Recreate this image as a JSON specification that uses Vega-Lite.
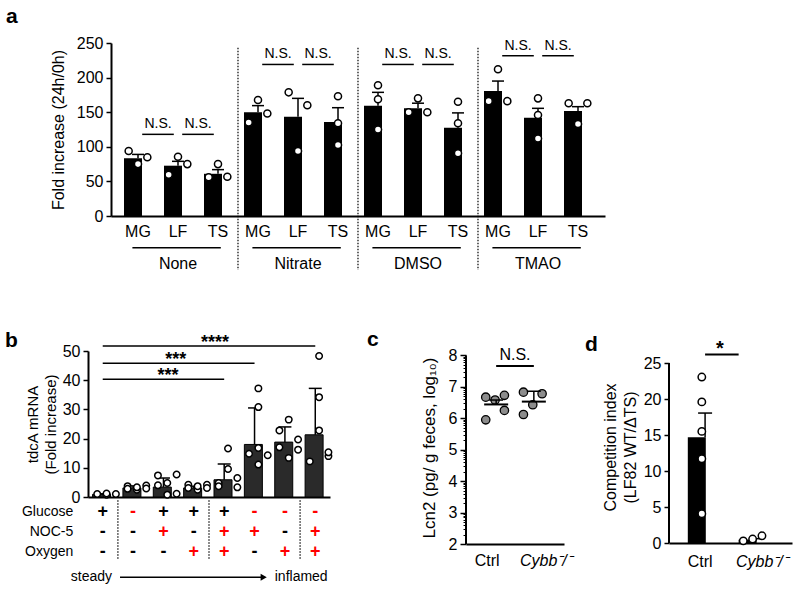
{
"$schema": "https://vega.github.io/schema/vega-lite/v6.json",
"padding": {"left": 5, "top": 6, "right": 5, "bottom": 5},
"background": "white",
"config": {
  "font": "Liberation Sans",
  "view": {"stroke": null},
  "axis": {"domainColor": "black", "domainWidth": 2, "tickColor": "black", "tickWidth": 1.5, "tickSize": 5, "labelColor": "black", "labelFontSize": 16, "labelFont": "Liberation Sans", "titleColor": "black", "titleFontSize": 16, "titleFontWeight": "normal", "titleFont": "Liberation Sans", "grid": false, "labelPadding": 3, "labelOverlap": false},
  "title": {"fontSize": 21, "fontWeight": "bold", "anchor": "start", "frame": "group", "color": "black", "baseline": "alphabetic", "font": "Liberation Sans"},
  "text": {"font": "Liberation Sans", "color": "black"}
},
"datasets": {
  "a_bars": [
    {"key": "None|MG", "mean": 83.5, "hi": 89},
    {"key": "None|LF", "mean": 72.7, "hi": 79},
    {"key": "None|TS", "mean": 61, "hi": 67},
    {"key": "Nitrate|MG", "mean": 150, "hi": 159.5},
    {"key": "Nitrate|LF", "mean": 143.5, "hi": 170},
    {"key": "Nitrate|TS", "mean": 136, "hi": 156.5},
    {"key": "DMSO|MG", "mean": 159.5, "hi": 178.7},
    {"key": "DMSO|LF", "mean": 155.6, "hi": 163},
    {"key": "DMSO|TS", "mean": 127.6, "hi": 149},
    {"key": "TMAO|MG", "mean": 180.6, "hi": 195},
    {"key": "TMAO|LF", "mean": 142, "hi": 155.6},
    {"key": "TMAO|TS", "mean": 151.7, "hi": 158}
  ],
  "a_pts": [
    {"key": "None|MG", "pos": "L", "value": 94}, {"key": "None|MG", "pos": "C", "value": 75}, {"key": "None|MG", "pos": "R", "value": 85},
    {"key": "None|LF", "pos": "L", "value": 59.7}, {"key": "None|LF", "pos": "C", "value": 85.7}, {"key": "None|LF", "pos": "R", "value": 75},
    {"key": "None|TS", "pos": "L", "value": 56}, {"key": "None|TS", "pos": "C", "value": 75}, {"key": "None|TS", "pos": "R", "value": 56.8},
    {"key": "Nitrate|MG", "pos": "L", "value": 135}, {"key": "Nitrate|MG", "pos": "C", "value": 167.6}, {"key": "Nitrate|MG", "pos": "R", "value": 148},
    {"key": "Nitrate|LF", "pos": "L", "value": 178.7}, {"key": "Nitrate|LF", "pos": "C", "value": 94}, {"key": "Nitrate|LF", "pos": "R", "value": 160},
    {"key": "Nitrate|TS", "pos": "C", "value": 173}, {"key": "Nitrate|TS", "pos": "C", "value": 134}, {"key": "Nitrate|TS", "pos": "C", "value": 102.6},
    {"key": "DMSO|MG", "pos": "C", "value": 189}, {"key": "DMSO|MG", "pos": "C", "value": 168.6}, {"key": "DMSO|MG", "pos": "C", "value": 125},
    {"key": "DMSO|LF", "pos": "C", "value": 170}, {"key": "DMSO|LF", "pos": "L", "value": 150}, {"key": "DMSO|LF", "pos": "R", "value": 150},
    {"key": "DMSO|TS", "pos": "C", "value": 165}, {"key": "DMSO|TS", "pos": "C", "value": 134}, {"key": "DMSO|TS", "pos": "C", "value": 90.6},
    {"key": "TMAO|MG", "pos": "C", "value": 212}, {"key": "TMAO|MG", "pos": "L", "value": 166}, {"key": "TMAO|MG", "pos": "R", "value": 166},
    {"key": "TMAO|LF", "pos": "C", "value": 170}, {"key": "TMAO|LF", "pos": "C", "value": 146}, {"key": "TMAO|LF", "pos": "C", "value": 112},
    {"key": "TMAO|TS", "pos": "L", "value": 163}, {"key": "TMAO|TS", "pos": "R", "value": 163}, {"key": "TMAO|TS", "pos": "C", "value": 133}
  ],
  "a_ns": [
    {"from": "None|MG", "to": "None|LF", "y": 118, "label": "N.S."},
    {"from": "None|LF", "to": "None|TS", "y": 118, "label": "N.S."},
    {"from": "Nitrate|MG", "to": "Nitrate|LF", "y": 219, "label": "N.S."},
    {"from": "Nitrate|LF", "to": "Nitrate|TS", "y": 219, "label": "N.S."},
    {"from": "DMSO|MG", "to": "DMSO|LF", "y": 219, "label": "N.S."},
    {"from": "DMSO|LF", "to": "DMSO|TS", "y": 219, "label": "N.S."},
    {"from": "TMAO|MG", "to": "TMAO|LF", "y": 231.6, "label": "N.S."},
    {"from": "TMAO|LF", "to": "TMAO|TS", "y": 231.6, "label": "N.S."}
  ],
  "a_groups": [
    {"first": "None|MG", "mid": "None|LF", "last": "None|TS", "label": "None"},
    {"first": "Nitrate|MG", "mid": "Nitrate|LF", "last": "Nitrate|TS", "label": "Nitrate"},
    {"first": "DMSO|MG", "mid": "DMSO|LF", "last": "DMSO|TS", "label": "DMSO"},
    {"first": "TMAO|MG", "mid": "TMAO|LF", "last": "TMAO|TS", "label": "TMAO"}
  ],
  "a_seps": [{"after": "None|TS"}, {"after": "Nitrate|TS"}, {"after": "DMSO|TS"}],
  "b_bars": [
    {"cond": "1", "mean": 0.9, "hi": 1.1},
    {"cond": "2", "mean": 3.1, "hi": 3.8},
    {"cond": "3", "mean": 3.4, "hi": 6.5},
    {"cond": "4", "mean": 3.1, "hi": 3.7},
    {"cond": "5", "mean": 5.9, "hi": 11.3},
    {"cond": "6", "mean": 18, "hi": 30.5},
    {"cond": "7", "mean": 18.8, "hi": 24},
    {"cond": "8", "mean": 21.3, "hi": 37.2}
  ],
  "b_pts": [
    {"cond": "1", "pos": "L", "value": 1.0}, {"cond": "1", "pos": "C", "value": 0.8}, {"cond": "1", "pos": "R", "value": 1.0}, {"cond": "1", "pos": "C", "value": 1.2},
    {"cond": "2", "pos": "L", "value": 3.7}, {"cond": "2", "pos": "R", "value": 3.9}, {"cond": "2", "pos": "C", "value": 2.5}, {"cond": "2", "pos": "C", "value": 3.3}, {"cond": "2", "pos": "L", "value": 2.8}, {"cond": "2", "pos": "R", "value": 2.9},
    {"cond": "3", "pos": "L", "value": 7.4}, {"cond": "3", "pos": "R", "value": 7.7}, {"cond": "3", "pos": "L", "value": 4.0}, {"cond": "3", "pos": "C", "value": 4.8}, {"cond": "3", "pos": "C", "value": 0.8}, {"cond": "3", "pos": "R", "value": 1.1},
    {"cond": "4", "pos": "L", "value": 4.2}, {"cond": "4", "pos": "R", "value": 4.2}, {"cond": "4", "pos": "C", "value": 2.5}, {"cond": "4", "pos": "L", "value": 3.1}, {"cond": "4", "pos": "R", "value": 3.1}, {"cond": "4", "pos": "C", "value": 3.7},
    {"cond": "5", "pos": "C", "value": 16.6}, {"cond": "5", "pos": "C", "value": 9.6}, {"cond": "5", "pos": "R", "value": 6.5}, {"cond": "5", "pos": "L", "value": 4.8}, {"cond": "5", "pos": "R", "value": 3.3}, {"cond": "5", "pos": "L", "value": 3.7},
    {"cond": "6", "pos": "C", "value": 37.2}, {"cond": "6", "pos": "C", "value": 30.8}, {"cond": "6", "pos": "L", "value": 14.8}, {"cond": "6", "pos": "R", "value": 14.3}, {"cond": "6", "pos": "C", "value": 16.8}, {"cond": "6", "pos": "C", "value": 11.1},
    {"cond": "7", "pos": "C", "value": 26.5}, {"cond": "7", "pos": "L", "value": 22.8}, {"cond": "7", "pos": "R", "value": 19.7}, {"cond": "7", "pos": "L", "value": 17.0}, {"cond": "7", "pos": "R", "value": 16.2}, {"cond": "7", "pos": "C", "value": 13.4},
    {"cond": "8", "pos": "C", "value": 48.3}, {"cond": "8", "pos": "C", "value": 34.2}, {"cond": "8", "pos": "C", "value": 22.8}, {"cond": "8", "pos": "R", "value": 14.0}, {"cond": "8", "pos": "L", "value": 12.2}, {"cond": "8", "pos": "R", "value": 15.3}
  ],
  "b_sig": [
    {"from": "1", "to": "8", "y": 51.7},
    {"from": "1", "to": "6", "y": 45.8},
    {"from": "1", "to": "5", "y": 40.3}
  ],
  "b_table": [
    {"cond": "1", "factor": "Glucose", "sign": "+", "state": "base"},
    {"cond": "2", "factor": "Glucose", "sign": "-", "state": "changed"},
    {"cond": "3", "factor": "Glucose", "sign": "+", "state": "base"},
    {"cond": "4", "factor": "Glucose", "sign": "+", "state": "base"},
    {"cond": "5", "factor": "Glucose", "sign": "+", "state": "base"},
    {"cond": "6", "factor": "Glucose", "sign": "-", "state": "changed"},
    {"cond": "7", "factor": "Glucose", "sign": "-", "state": "changed"},
    {"cond": "8", "factor": "Glucose", "sign": "-", "state": "changed"},
    {"cond": "1", "factor": "NOC-5", "sign": "-", "state": "base"},
    {"cond": "2", "factor": "NOC-5", "sign": "-", "state": "base"},
    {"cond": "3", "factor": "NOC-5", "sign": "+", "state": "changed"},
    {"cond": "4", "factor": "NOC-5", "sign": "-", "state": "base"},
    {"cond": "5", "factor": "NOC-5", "sign": "+", "state": "changed"},
    {"cond": "6", "factor": "NOC-5", "sign": "+", "state": "changed"},
    {"cond": "7", "factor": "NOC-5", "sign": "-", "state": "base"},
    {"cond": "8", "factor": "NOC-5", "sign": "+", "state": "changed"},
    {"cond": "1", "factor": "Oxygen", "sign": "-", "state": "base"},
    {"cond": "2", "factor": "Oxygen", "sign": "-", "state": "base"},
    {"cond": "3", "factor": "Oxygen", "sign": "-", "state": "base"},
    {"cond": "4", "factor": "Oxygen", "sign": "+", "state": "changed"},
    {"cond": "5", "factor": "Oxygen", "sign": "+", "state": "changed"},
    {"cond": "6", "factor": "Oxygen", "sign": "-", "state": "base"},
    {"cond": "7", "factor": "Oxygen", "sign": "+", "state": "changed"},
    {"cond": "8", "factor": "Oxygen", "sign": "+", "state": "changed"}
  ],
  "b_seps": [{"after": "1"}, {"after": "4"}, {"after": "7"}],
  "b_arrow": [{"start": "1", "end": "6", "next": "7", "left": "steady", "right": "inflamed"}],
  "c_pts": [
    {"grp": "Ctrl", "pos": "L", "value": 6.67}, {"grp": "Ctrl", "pos": "R", "value": 6.73}, {"grp": "Ctrl", "pos": "R", "value": 6.25}, {"grp": "Ctrl", "pos": "L", "value": 5.95}, {"grp": "Ctrl", "pos": "C", "value": 6.58},
    {"grp": "Cybb", "pos": "L", "value": 6.83}, {"grp": "Cybb", "pos": "R", "value": 6.78}, {"grp": "Cybb", "pos": "C", "value": 6.43}, {"grp": "Cybb", "pos": "L", "value": 6.12}
  ],
  "c_stats": [
    {"grp": "Ctrl", "mean": 6.44, "hi": 6.58},
    {"grp": "Cybb", "mean": 6.53, "hi": 6.86}
  ],
  "c_ns": [{"from": "Ctrl", "to": "Cybb", "y": 7.66, "label": "N.S."}],
  "d_stats": [
    {"grp": "Ctrl", "mean": 14.7, "hi": 18.05},
    {"grp": "Cybb", "mean": 0.46, "hi": 0.6}
  ],
  "d_pts": [
    {"grp": "Ctrl", "pos": "C", "value": 23.05}, {"grp": "Ctrl", "pos": "C", "value": 19.6}, {"grp": "Ctrl", "pos": "C", "value": 15.5}, {"grp": "Ctrl", "pos": "C", "value": 11.7}, {"grp": "Ctrl", "pos": "C", "value": 4.07},
    {"grp": "Cybb", "pos": "L", "value": 0.3}, {"grp": "Cybb", "pos": "C", "value": 0.55}, {"grp": "Cybb", "pos": "R", "value": 1.0}
  ],
  "d_sig": [{"from": "Ctrl", "to": "Cybb", "y": 26.2, "label": "*"}]
},
"spacing": 56,
"vconcat": [
  {
    "bounds": "flush",
    "spacing": 22,
    "hconcat": [
      {"data": {"values": []}, "mark": "point", "width": 1, "height": 1},
      {
        "width": 494,
        "height": 173,
        "title": {"text": "a", "dx": -105, "offset": 8},
        "layer": [
          {
            "data": {"name": "a_bars"},
            "mark": {"type": "bar", "color": "black", "opacity": 1},
            "encoding": {
              "x": {"field": "key", "type": "nominal", "scale": {"domain": ["None|MG", "None|LF", "None|TS", "Nitrate|MG", "Nitrate|LF", "Nitrate|TS", "DMSO|MG", "DMSO|LF", "DMSO|TS", "TMAO|MG", "TMAO|LF", "TMAO|TS"], "paddingInner": 0.3, "paddingOuter": 0.325},
                    "axis": {"title": null, "ticks": false, "labelPadding": 7, "labelAngle": 0, "labelExpr": "split(datum.value, '|')[1]"}},
              "y": {"field": "mean", "type": "quantitative", "scale": {"domain": [0, 250], "nice": false},
                    "axis": {"title": "Fold increase (24h/0h)", "values": [0, 50, 100, 150, 200, 250], "tickCount": 20, "labelOverlap": false, "titlePadding": 10}}
            }
          },
          {
            "data": {"name": "a_bars"},
            "mark": {"type": "rule", "strokeWidth": 1.5, "color": "black"},
            "encoding": {"x": {"field": "key", "type": "nominal"}, "y": {"field": "mean", "type": "quantitative"}, "y2": {"field": "hi"}}
          },
          {
            "data": {"name": "a_bars"},
            "mark": {"type": "tick", "size": 12, "thickness": 1.5, "color": "black", "opacity": 1},
            "encoding": {"x": {"field": "key", "type": "nominal"}, "y": {"field": "hi", "type": "quantitative"}}
          },
          {
            "data": {"name": "a_pts"},
            "mark": {"type": "point", "shape": "circle", "filled": true, "fill": "white", "stroke": "black", "strokeWidth": 1.5, "size": 50, "opacity": 1},
            "encoding": {
              "x": {"field": "key", "type": "nominal"},
              "xOffset": {"field": "pos", "type": "nominal", "scale": {"domain": ["L", "C", "R"], "paddingOuter": 0.5, "paddingInner": 0}},
              "y": {"field": "value", "type": "quantitative"}
            }
          },
          {
            "data": {"name": "a_ns"},
            "mark": {"type": "rule", "strokeWidth": 1.5, "color": "black"},
            "encoding": {"x": {"field": "from", "type": "nominal", "bandPosition": 0.65}, "x2": {"field": "to", "bandPosition": 0.35}, "y": {"field": "y", "type": "quantitative"}}
          },
          {
            "data": {"name": "a_ns"},
            "mark": {"type": "text", "baseline": "bottom", "dy": -3, "fontSize": 14},
            "encoding": {"x": {"field": "from", "type": "nominal", "bandPosition": 1.214}, "y": {"field": "y", "type": "quantitative"}, "text": {"field": "label"}}
          },
          {
            "data": {"name": "a_groups"},
            "mark": {"type": "rule", "strokeWidth": 1.5, "color": "black"},
            "encoding": {"x": {"field": "first", "type": "nominal", "bandPosition": 0.3}, "x2": {"field": "last", "bandPosition": 0.6}, "y": {"datum": -46}}
          },
          {
            "data": {"name": "a_groups"},
            "mark": {"type": "text", "baseline": "middle", "fontSize": 16},
            "encoding": {"x": {"field": "mid", "type": "nominal"}, "y": {"datum": -69.4}, "text": {"field": "label"}}
          },
          {
            "data": {"name": "a_seps"},
            "mark": {"type": "rule", "strokeWidth": 1.2, "strokeDash": [1.5, 1.5], "color": "black"},
            "encoding": {"x": {"field": "after", "type": "nominal", "bandPosition": 1.214}, "y": {"datum": 243}, "y2": {"datum": -78}}
          }
        ]
      }
    ]
  },
  {
    "bounds": "flush",
    "spacing": 0,
    "hconcat": [
      {
        "width": 242,
        "height": 146,
        "title": {"text": "b", "dx": -83, "offset": -17},
        "layer": [
          {
            "data": {"name": "b_bars"},
            "mark": {"type": "bar", "color": "#2a2a2a", "stroke": "black", "strokeWidth": 1, "opacity": 1},
            "encoding": {
              "x": {"field": "cond", "type": "nominal", "scale": {"domain": ["1", "2", "3", "4", "5", "6", "7", "8"], "paddingInner": 0.33, "paddingOuter": 0.15},
                    "axis": {"title": null, "labels": false, "ticks": false}},
              "y": {"field": "mean", "type": "quantitative", "scale": {"domain": [0, 50], "nice": false},
                    "axis": {"values": [0, 10, 20, 30, 40, 50], "tickCount": 20, "labelOverlap": false, "title": ["tdcA mRNA", "(Fold increase)"], "titleFontSize": 15, "titlePadding": 0, "titleX": -48, "titleLineHeight": 18}}
            }
          },
          {
            "data": {"name": "b_bars"},
            "mark": {"type": "rule", "strokeWidth": 1.5, "color": "black"},
            "encoding": {"x": {"field": "cond", "type": "nominal"}, "y": {"field": "mean", "type": "quantitative"}, "y2": {"field": "hi"}}
          },
          {
            "data": {"name": "b_bars"},
            "mark": {"type": "tick", "size": 13, "thickness": 1.5, "color": "black", "opacity": 1},
            "encoding": {"x": {"field": "cond", "type": "nominal"}, "y": {"field": "hi", "type": "quantitative"}}
          },
          {
            "data": {"name": "b_pts"},
            "mark": {"type": "point", "shape": "circle", "filled": true, "fill": "white", "stroke": "black", "strokeWidth": 1.5, "size": 42, "opacity": 1},
            "encoding": {
              "x": {"field": "cond", "type": "nominal"},
              "xOffset": {"field": "pos", "type": "nominal", "scale": {"domain": ["L", "C", "R"], "paddingOuter": 0.55, "paddingInner": 0}},
              "y": {"field": "value", "type": "quantitative"}
            }
          },
          {
            "data": {"name": "b_sig"},
            "mark": {"type": "rule", "strokeWidth": 1.5, "color": "black"},
            "encoding": {"x": {"field": "from", "type": "nominal"}, "x2": {"field": "to"}, "y": {"field": "y", "type": "quantitative"}}
          },
          {
            "data": {"values": [{"tx": "5", "label": "****", "y": 51.7}]},
            "mark": {"type": "text", "baseline": "alphabetic", "dy": 2, "fontSize": 18, "fontWeight": "bold"},
            "encoding": {"x": {"field": "tx", "type": "nominal", "bandPosition": 0.05}, "y": {"field": "y", "type": "quantitative"}, "text": {"field": "label"}}
          },
          {
            "data": {"values": [{"tx": "3", "label": "***", "y": 45.8}]},
            "mark": {"type": "text", "baseline": "alphabetic", "dy": 2, "fontSize": 18, "fontWeight": "bold"},
            "encoding": {"x": {"field": "tx", "type": "nominal", "bandPosition": 1.1}, "y": {"field": "y", "type": "quantitative"}, "text": {"field": "label"}}
          },
          {
            "data": {"values": [{"tx": "3", "label": "***", "y": 40.3}]},
            "mark": {"type": "text", "baseline": "alphabetic", "dy": 2, "fontSize": 18, "fontWeight": "bold"},
            "encoding": {"x": {"field": "tx", "type": "nominal", "bandPosition": 0.72}, "y": {"field": "y", "type": "quantitative"}, "text": {"field": "label"}}
          },
          {
            "data": {"name": "b_table"},
            "transform": [{"filter": "datum.factor == 'Glucose'"}],
            "mark": {"type": "text", "fontSize": 18, "fontWeight": "bold", "baseline": "middle"},
            "encoding": {
              "x": {"field": "cond", "type": "nominal"},
              "y": {"datum": -5.15},
              "text": {"field": "sign"},
              "color": {"field": "state", "type": "nominal", "scale": {"domain": ["base", "changed"], "range": ["black", "#ff0000"]}, "legend": null}
            }
          },
          {
            "data": {"name": "b_table"},
            "transform": [{"filter": "datum.factor == 'NOC-5'"}],
            "mark": {"type": "text", "fontSize": 18, "fontWeight": "bold", "baseline": "middle"},
            "encoding": {
              "x": {"field": "cond", "type": "nominal"},
              "y": {"datum": -12.0},
              "text": {"field": "sign"},
              "color": {"field": "state", "type": "nominal", "legend": null}
            }
          },
          {
            "data": {"name": "b_table"},
            "transform": [{"filter": "datum.factor == 'Oxygen'"}],
            "mark": {"type": "text", "fontSize": 18, "fontWeight": "bold", "baseline": "middle"},
            "encoding": {
              "x": {"field": "cond", "type": "nominal"},
              "y": {"datum": -19.0},
              "text": {"field": "sign"},
              "color": {"field": "state", "type": "nominal", "legend": null}
            }
          },
          {
            "data": {"name": "b_table"},
            "transform": [{"filter": "datum.factor == 'Glucose' && datum.cond == '1'"}],
            "mark": {"type": "text", "fontSize": 14, "align": "right", "baseline": "middle"},
            "encoding": {"x": {"field": "cond", "type": "nominal", "bandPosition": -0.946}, "y": {"datum": -5.15}, "text": {"field": "factor"}}
          },
          {
            "data": {"name": "b_table"},
            "transform": [{"filter": "datum.factor == 'NOC-5' && datum.cond == '1'"}],
            "mark": {"type": "text", "fontSize": 14, "align": "right", "baseline": "middle"},
            "encoding": {"x": {"field": "cond", "type": "nominal", "bandPosition": -0.946}, "y": {"datum": -12.0}, "text": {"field": "factor"}}
          },
          {
            "data": {"name": "b_table"},
            "transform": [{"filter": "datum.factor == 'Oxygen' && datum.cond == '1'"}],
            "mark": {"type": "text", "fontSize": 14, "align": "right", "baseline": "middle"},
            "encoding": {"x": {"field": "cond", "type": "nominal", "bandPosition": -0.946}, "y": {"datum": -19.0}, "text": {"field": "factor"}}
          },
          {
            "data": {"name": "b_seps"},
            "mark": {"type": "rule", "strokeWidth": 1.2, "strokeDash": [1.5, 1.5], "color": "black"},
            "encoding": {"x": {"field": "after", "type": "nominal", "bandPosition": 1.246}, "y": {"datum": -1.1}, "y2": {"datum": -21.4}}
          },
          {
            "data": {"name": "b_arrow"},
            "mark": {"type": "rule", "strokeWidth": 1.5, "color": "black"},
            "encoding": {"x": {"field": "start", "type": "nominal", "bandPosition": 1.35}, "x2": {"field": "end", "bandPosition": 0.87}, "y": {"datum": -27.5}}
          },
          {
            "data": {"name": "b_arrow"},
            "mark": {"type": "point", "shape": "triangle-right", "filled": true, "color": "black", "size": 50, "opacity": 1},
            "encoding": {"x": {"field": "end", "type": "nominal", "bandPosition": 0.95}, "y": {"datum": -27.5}}
          },
          {
            "data": {"name": "b_arrow"},
            "mark": {"type": "text", "align": "right", "baseline": "middle", "fontSize": 14},
            "encoding": {"x": {"field": "start", "type": "nominal", "bandPosition": 0.96}, "y": {"datum": -27.5}, "text": {"field": "left"}}
          },
          {
            "data": {"name": "b_arrow"},
            "mark": {"type": "text", "align": "left", "baseline": "middle", "fontSize": 14},
            "encoding": {"x": {"field": "next", "type": "nominal", "bandPosition": 0}, "y": {"datum": -27.5}, "text": {"field": "right"}}
          }
        ]
      },
      {"data": {"values": []}, "mark": "point", "width": 136, "height": 1},
      {
        "width": 98,
        "height": 193,
        "title": {"text": "c", "dx": -99, "offset": -3},
        "resolve": {"axis": {"y": "independent"}},
        "layer": [
          {
            "data": {"name": "c_pts"},
            "mark": {"type": "point", "shape": "circle", "filled": true, "fill": "#8c8c8c", "stroke": "black", "strokeWidth": 1.3, "size": 70, "opacity": 1},
            "encoding": {
              "x": {"field": "grp", "type": "nominal", "scale": {"domain": ["Ctrl", "Cybb"], "paddingInner": 0.2, "paddingOuter": 0.4},
                    "axis": {"title": null, "ticks": false, "labelPadding": 8, "labelAngle": 0, "labelExpr": "datum.value == 'Cybb' ? 'Cybb⁻/⁻' : datum.value",
                             "labelFontStyle": {"condition": {"test": "datum.value == 'Cybb'", "value": "italic"}, "value": "normal"},
                             "labelOffset": {"condition": {"test": "datum.value == 'Ctrl'", "value": -9}, "value": 12}}},
              "xOffset": {"field": "pos", "type": "nominal", "scale": {"domain": ["L", "C", "R"], "paddingOuter": 1.27, "paddingInner": 0}},
              "y": {"field": "value", "type": "quantitative", "scale": {"domain": [2, 8.14], "nice": false, "zero": false},
                    "axis": {"orient": "left", "domain": false, "values": [2, 3, 4, 5, 6, 7, 8], "format": "d", "tickCount": 20, "labelOverlap": false, "title": "Lcn2 (pg/ g feces, log₁₀)", "titleFontSize": 17, "tickSize": 6, "titlePadding": 10}}
            }
          },
          {
            "data": {"name": "c_stats"},
            "transform": [{"filter": "datum.grp == 'Ctrl'"}],
            "mark": {"type": "rule", "strokeWidth": 2, "color": "black"},
            "encoding": {"x": {"field": "grp", "type": "nominal", "bandPosition": -0.5}, "y": {"datum": 2, "axis": null}, "y2": {"datum": 8}}
          },
          {
            "data": {"name": "c_stats"},
            "mark": {"type": "tick", "size": 24, "thickness": 2, "color": "black", "opacity": 1},
            "encoding": {"x": {"field": "grp", "type": "nominal"}, "y": {"field": "mean", "type": "quantitative", "axis": null}}
          },
          {
            "data": {"name": "c_stats"},
            "mark": {"type": "rule", "strokeWidth": 1.5, "color": "black"},
            "encoding": {"x": {"field": "grp", "type": "nominal"}, "y": {"field": "mean", "type": "quantitative", "axis": null}, "y2": {"field": "hi"}}
          },
          {
            "data": {"name": "c_stats"},
            "mark": {"type": "tick", "size": 14, "thickness": 1.5, "color": "black", "opacity": 1},
            "encoding": {"x": {"field": "grp", "type": "nominal"}, "y": {"field": "hi", "type": "quantitative", "axis": null}}
          },
          {
            "data": {"name": "c_ns"},
            "mark": {"type": "rule", "strokeWidth": 2, "color": "black"},
            "encoding": {"x": {"field": "from", "type": "nominal"}, "x2": {"field": "to"},
                         "y": {"field": "y", "type": "quantitative",
                               "axis": {"orient": "left", "labels": false, "domain": false, "title": null, "tickSize": 3, "tickWidth": 1, "tickCount": 200,
                                        "values": [2.301, 2.477, 2.602, 2.699, 2.778, 2.845, 2.903, 2.954, 3.301, 3.477, 3.602, 3.699, 3.778, 3.845, 3.903, 3.954, 4.301, 4.477, 4.602, 4.699, 4.778, 4.845, 4.903, 4.954, 5.301, 5.477, 5.602, 5.699, 5.778, 5.845, 5.903, 5.954, 6.301, 6.477, 6.602, 6.699, 6.778, 6.845, 6.903, 6.954, 7.301, 7.477, 7.602, 7.699, 7.778, 7.845, 7.903, 7.954]}}}
          },
          {
            "data": {"name": "c_ns"},
            "mark": {"type": "text", "baseline": "bottom", "dy": -3, "fontSize": 16},
            "encoding": {"x": {"field": "from", "type": "nominal", "bandPosition": 1.125}, "y": {"field": "y", "type": "quantitative", "axis": null}, "text": {"field": "label"}}
          }
        ]
      },
      {"data": {"values": []}, "mark": "point", "width": 105, "height": 1},
      {
        "width": 123,
        "height": 192,
        "title": {"text": "d", "dx": -84, "offset": -15.2},
        "layer": [
          {
            "data": {"name": "d_stats"},
            "mark": {"type": "bar", "color": "black", "opacity": 1},
            "encoding": {
              "x": {"field": "grp", "type": "nominal", "scale": {"domain": ["Ctrl", "Cybb"], "paddingInner": 0.32, "paddingOuter": 0.37},
                    "axis": {"title": null, "ticks": false, "labelPadding": 10, "labelAngle": 0, "labelExpr": "datum.value == 'Cybb' ? 'Cybb⁻/⁻' : datum.value",
                             "labelFontStyle": {"condition": {"test": "datum.value == 'Cybb'", "value": "italic"}, "value": "normal"},
                             "labelOffset": {"condition": {"test": "datum.value == 'Ctrl'", "value": -5}, "value": 6}}},
              "y": {"field": "mean", "type": "quantitative", "scale": {"domain": [0, 26.67], "nice": false},
                    "axis": {"domain": false, "values": [0, 5, 10, 15, 20, 25], "tickCount": 20, "labelOverlap": false, "title": ["Competition index", "(LF82 WT/ΔTS)"], "titlePadding": 5, "titleLineHeight": 20}}
            }
          },
          {
            "data": {"name": "d_stats"},
            "transform": [{"filter": "datum.grp == 'Ctrl'"}],
            "mark": {"type": "rule", "strokeWidth": 2, "color": "black"},
            "encoding": {"x": {"field": "grp", "type": "nominal", "bandPosition": -0.544}, "y": {"datum": 0}, "y2": {"datum": 25}}
          },
          {
            "data": {"name": "d_stats"},
            "mark": {"type": "rule", "strokeWidth": 1.5, "color": "black"},
            "encoding": {"x": {"field": "grp", "type": "nominal"}, "y": {"field": "mean", "type": "quantitative"}, "y2": {"field": "hi"}}
          },
          {
            "data": {"name": "d_stats"},
            "mark": {"type": "tick", "size": 14, "thickness": 1.5, "color": "black", "opacity": 1},
            "encoding": {"x": {"field": "grp", "type": "nominal"}, "y": {"field": "hi", "type": "quantitative"}}
          },
          {
            "data": {"name": "d_pts"},
            "mark": {"type": "point", "shape": "circle", "filled": true, "fill": "white", "stroke": "black", "strokeWidth": 1.5, "size": 55, "opacity": 1},
            "encoding": {
              "x": {"field": "grp", "type": "nominal"},
              "xOffset": {"field": "pos", "type": "nominal", "scale": {"domain": ["L", "C", "R"], "paddingOuter": 1.4, "paddingInner": 0}},
              "y": {"field": "value", "type": "quantitative"}
            }
          },
          {
            "data": {"name": "d_sig"},
            "mark": {"type": "rule", "strokeWidth": 2, "color": "black"},
            "encoding": {"x": {"field": "from", "type": "nominal"}, "x2": {"field": "to", "bandPosition": 0}, "y": {"field": "y", "type": "quantitative"}}
          },
          {
            "data": {"name": "d_sig"},
            "mark": {"type": "text", "baseline": "alphabetic", "dy": 1, "fontSize": 20, "fontWeight": "bold"},
            "encoding": {"x": {"field": "from", "type": "nominal", "bandPosition": 0.93}, "y": {"field": "y", "type": "quantitative"}, "text": {"field": "label"}}
          }
        ]
      }
    ]
  }
]
}
